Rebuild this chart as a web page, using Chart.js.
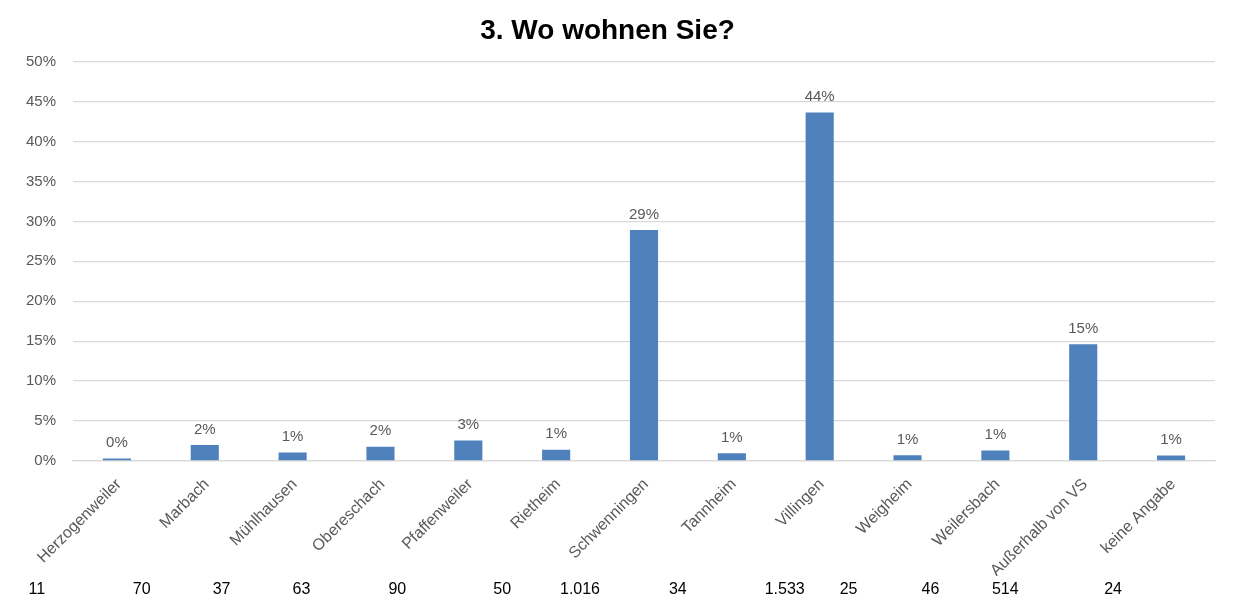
<!DOCTYPE html>
<html>
<head>
<meta charset="utf-8">
<script src="https://cdn.jsdelivr.net/npm/chart.js@4/dist/chart.umd.min.js"></script>
<style>
  html, body { margin: 0; padding: 0; background: #fff; }
  #wrap { width: 1239px; height: 600px; }
</style>
</head>
<body>
<div id="wrap"><canvas id="chart"></canvas></div>
<script>
// Daten
const orte = ['Herzogenweiler', 'Marbach', 'Mühlhausen', 'Obereschach', 'Pfaffenweiler', 'Rietheim',
  'Schwenningen', 'Tannheim', 'Villingen', 'Weigheim', 'Weilersbach', 'Außerhalb von VS', 'keine Angabe'];
const anteile = [0.31, 1.99, 1.05, 1.79, 2.56, 1.42, 28.92, 0.97, 43.64, 0.71, 1.31, 14.63, 0.68];
const anzahl = ['11', '70', '37', '63', '90', '50', '1.016', '34', '1.533', '25', '46', '514', '24'];
const yTicks = [0, 5, 10, 15, 20, 25, 30, 35, 40, 45, 50];

// Lage der Anzahl-Zeile (Versatz zur Kategoriemitte, wie im Original verschoben)
const anzahlVersatz = [-80, -63, -71, -79, -71, -54, -64, -54, -35, -59, -65, -78, -58];

const grau = '#595959';
const schrift = '"Liberation Sans", Arial, sans-serif';

const werteLabels = {
  id: 'werteLabels',
  afterDatasetsDraw(chart) {
    const ctx = chart.ctx;
    const meta = chart.getDatasetMeta(0);
    ctx.save();
    ctx.font = '15px ' + schrift;
    ctx.fillStyle = grau;
    ctx.textAlign = 'center';
    ctx.textBaseline = 'bottom';
    meta.data.forEach((bar, i) => {
      ctx.fillText(Math.round(anteile[i]) + '%', bar.x, bar.y - 8);
    });
    ctx.restore();
  }
};

const anzahlZeile = {
  id: 'anzahlZeile',
  afterDraw(chart) {
    const ctx = chart.ctx;
    const x = chart.scales.x;
    ctx.save();
    ctx.font = '16px ' + schrift;
    ctx.fillStyle = '#000';
    ctx.textAlign = 'center';
    ctx.textBaseline = 'middle';
    anzahl.forEach((t, i) => {
      ctx.fillText(t, x.getPixelForValue(i) + anzahlVersatz[i], 590);
    });
    ctx.restore();
  }
};

new Chart(document.getElementById('chart'), {
  type: 'bar',
  data: {
    labels: orte,
    datasets: [{
      data: anteile,
      backgroundColor: '#4F81BD',
      barPercentage: 0.32,
      categoryPercentage: 1
    }]
  },
  options: {
    responsive: true,
    maintainAspectRatio: false,
    animation: false,
    layout: { padding: { left: 0, right: 24, top: 0, bottom: 24 } },
    plugins: {
      legend: { display: false },
      tooltip: { enabled: false },
      title: {
        display: true,
        text: '3. Wo wohnen Sie?',
        color: '#000',
        font: { family: schrift, size: 28, weight: 'bold' },
        padding: { top: 14, bottom: 14 }
      }
    },
    scales: {
      y: {
        min: 0, max: 50,
        afterBuildTicks: s => { s.ticks = yTicks.map(v => ({ value: v })); },
        afterFit: s => { s.width = 73; },
        border: { display: false },
        grid: { color: '#d9d9d9', lineWidth: 1.3, drawTicks: false },
        ticks: {
          color: grau, padding: 17,
          font: { family: schrift, size: 15 },
          callback: v => v + '%'
        }
      },
      x: {
        afterFit: s => { s.height = 115; },
        border: { color: '#d9d9d9', width: 1.3 },
        grid: { display: false },
        ticks: {
          color: grau, maxRotation: 45, minRotation: 45, autoSkip: false,
          padding: 6, labelOffset: 2,
          font: { family: schrift, size: 16 }
        }
      }
    }
  },
  plugins: [werteLabels, anzahlZeile]
});
</script>
</body>
</html>
